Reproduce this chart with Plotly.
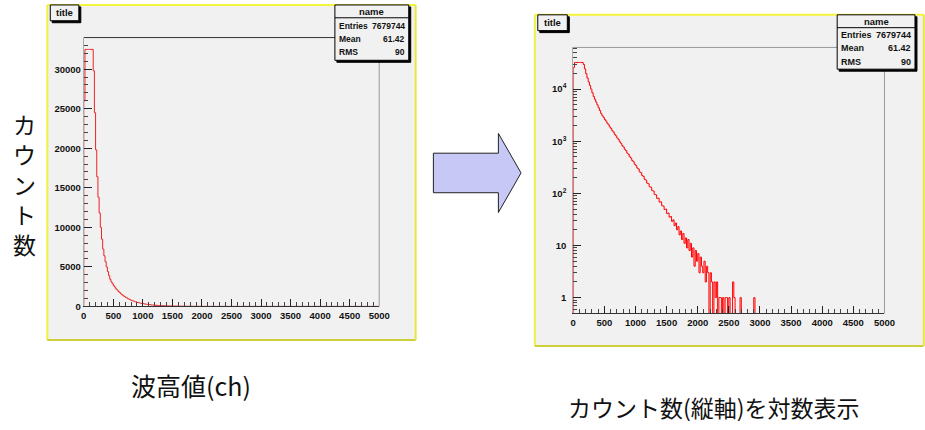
import plotly.graph_objects as go

W, H = 925, 430

# Pulse-height histogram: 20-channel bins from 0 to 5000 ch
BIN_WIDTH = 20
N_BINS = 250
counts = [
    26000, 32500, 32500, 32500, 32500, 32500, 32500, 32500, 29800, 24500,
    19800, 16400, 13800, 11800, 10000, 8500, 7250, 6400, 5650, 4990,
    4400, 3890, 3430, 3090, 2870, 2610, 2440, 2210, 2070, 1880,
    1760, 1590, 1495, 1350, 1270, 1150, 1080, 975, 915, 826,
    778, 700, 662, 592, 561, 503, 478, 426, 405, 362,
    344, 307, 294, 258, 249, 220, 212, 186, 180, 157,
    153, 134, 131, 113, 111, 96, 94, 80, 81, 68,
    69, 58, 57, 49, 50, 41, 42, 35, 36, 29,
    31, 24, 27, 20, 23, 16, 19, 13, 17, 11,
    14, 9, 13, 8, 11, 6, 9, 4, 8, 5,
    7, 3, 6, 4, 3, 5, 2, 4, 3, 0,
    3, 2, 0, 2, 1, 2, 0, 1, 1, 0,
    1, 0, 1, 1, 0, 1, 0, 0, 2, 1,
    0, 0, 0, 0, 1, 0, 0, 0, 0, 0,
    0, 0, 0, 0, 0, 1,
]
counts = counts + [0] * (N_BINS - len(counts))

stats_rows = [("Entries", "7679744"), ("Mean", "61.42"), ("RMS", "90")]
stats_name = "name"
hist_title = "title"

x_ticks = list(range(0, 5001, 500))
lin_y_ticks = list(range(0, 30001, 5000))
log_y_ticks = [1, 10, 100, 1000, 10000]
log_y_labels = ["1", "10", "10<sup>2</sup>", "10<sup>3</sup>", "10<sup>4</sup>"]
log_minor = [m * 10 ** d for d in range(-1, 5) for m in range(2, 10)]

label_y = "カウント数"
label_x = "波高値(ch)"
label_log = "カウント数(縦軸)を対数表示"

ROOT_FONT = "Liberation Sans, Arial"
JP_FONT = "Noto Sans CJK JP"
CANVAS = "#f1f1f1"


def px(x):
    return x / W


def py(y):
    return 1 - y / H


# step outline of the histogram (edges, ROOT style)
edges = [i * BIN_WIDTH for i in range(N_BINS + 1)]
step_x = [0] + edges[:-1] + [edges[-1]]
step_y = [0] + counts + [counts[-1]]
log_floor = 1e-3
step_y_log = [v if v > 0 else log_floor for v in step_y]

fig = go.Figure()
fig.add_trace(go.Scatter(x=step_x, y=step_y, mode="lines", line_shape="hv",
                         line=dict(color="#ee2222", width=1), xaxis="x", yaxis="y",
                         showlegend=False, hoverinfo="skip"))
fig.add_trace(go.Scatter(x=step_x, y=step_y_log, mode="lines", line_shape="hv",
                         line=dict(color="#ff0000", width=1), xaxis="x2", yaxis="y2",
                         showlegend=False, hoverinfo="skip"))

tickfont = dict(family=ROOT_FONT, size=9.5, color="#111", weight="bold")

common_x = dict(range=[0, 5000], tickvals=x_ticks, ticktext=[str(v) for v in x_ticks],
                ticks="inside", ticklen=7,
                tickcolor="#222", showline=True, linecolor="#333", linewidth=1,
                showgrid=False, zeroline=False, tickfont=tickfont,
                minor=dict(ticks="inside", dtick=100, tick0=0, ticklen=4, tickcolor="#444"))

shapes = []
annotations = []


def rect(x0, y0, x1, y1, fill=None, line_color="black", width=1, layer="above"):
    shapes.append(dict(type="rect", xref="paper", yref="paper",
                       x0=px(x0), x1=px(x1), y0=py(y1), y1=py(y0),
                       fillcolor=fill if fill else "rgba(0,0,0,0)",
                       line=dict(color=line_color, width=width), layer=layer))


def line(x0, y0, x1, y1, color, width=1, layer="above"):
    shapes.append(dict(type="line", xref="paper", yref="paper",
                       x0=px(x0), x1=px(x1), y0=py(y0), y1=py(y1),
                       line=dict(color=color, width=width), layer=layer))


def text(x, y, s, size=9, xanchor="center", family=ROOT_FONT, weight="bold", color="#111"):
    annotations.append(dict(x=px(x), y=py(y), xref="paper", yref="paper", text=s,
                            showarrow=False, xanchor=xanchor, yanchor="middle",
                            font=dict(family=family, size=size, color=color, weight=weight)))


def canvas(x0, y0, x1, y1):
    rect(x0, y0, x1, y1, fill=CANVAS, line_color="rgba(0,0,0,0)", layer="below")
    line(x0, y0, x1, y0, "#f4f43c", 2, "below")
    line(x0, y0, x0, y1, "#f0f040", 2, "below")
    line(x0, y1, x1, y1, "#cfcf3a", 2, "below")
    line(x1, y0, x1, y1, "#e8e83c", 2, "below")


def title_box(x0, y0, x1, y1):
    rect(x0 + 2, y0 + 2, x1 + 2, y1 + 2, fill="#000")
    rect(x0, y0, x1, y1, fill=CANVAS, line_color="#000")
    text((x0 + x1) / 2, (y0 + y1) / 2, hist_title, size=9.5)


def stats_box(x0, y0, x1, y1, head_y, row_ys, size):
    rect(x0 + 2, y0 + 2, x1 + 2, y1 + 2, fill="#000")
    rect(x0, y0, x1, y1, fill=CANVAS, line_color="#000")
    line(x0, head_y, x1, head_y, "#000", 1)
    text((x0 + x1) / 2, (y0 + head_y) / 2, stats_name, size=9.5)
    for (k, v), yy in zip(stats_rows, row_ys):
        text(x0 + 2, yy, k, size=size, xanchor="left")
        text(x1 - 2, yy, v, size=size, xanchor="right")


# left canvas: linear scale
canvas(45, 5, 419, 344)
line(82, 38, 382, 38, "#333", 1)
line(382, 38, 382, 310, "#999", 1)
title_box(48, 5, 77, 21)
stats_box(337, 5, 412, 61, 18, [26, 39.5, 53], 8.5)

# right canvas: log scale
canvas(540, 15, 935, 350)
line(579, 48, 895, 48, "#999", 1)
line(895, 48, 895, 317, "#999", 1)
title_box(543, 15, 573, 31)
stats_box(847, 15, 926, 70, 28, [35, 49, 63], 9)

# arrow between the two canvases
arrow_pts = [(437, 155), (503, 155), (503, 135), (526, 175), (503, 215), (503, 195), (437, 195)]
path = "M " + " L ".join(f"{px(a):.5f},{py(b):.5f}" for a, b in arrow_pts) + " Z"
shapes.append(dict(type="path", xref="paper", yref="paper", path=path,
                   fillcolor="#c8c8f6", line=dict(color="#222", width=1), layer="above"))

# Japanese captions (vertical y label as one stacked text)
text(22, 186, "<br>".join(label_y), size=23, family=JP_FONT, weight="normal", color="#111")
text(191, 390, label_x, size=25, family=JP_FONT, weight="normal", color="#111")
text(722, 412, label_log, size=23, family=JP_FONT, weight="normal", color="#111")

fig.update_layout(
    width=W, height=H, autosize=False,
    margin=dict(l=0, r=0, t=0, b=0),
    paper_bgcolor="white", plot_bgcolor="rgba(0,0,0,0)",
    showlegend=False,
    xaxis=dict(domain=[px(82), px(382)], anchor="y", **common_x),
    yaxis=dict(domain=[py(310), py(38)], anchor="x", range=[0, 34000],
               tickvals=lin_y_ticks, ticktext=[str(v) for v in lin_y_ticks],
               ticks="inside", ticklen=8, tickcolor="#222",
               showline=True, linecolor="#aaa", showgrid=False, zeroline=False,
               tickfont=tickfont,
               minor=dict(ticks="inside", dtick=1000, tick0=0, ticklen=4, tickcolor="#444")),
    xaxis2=dict(domain=[px(579), px(895)], anchor="y2", **common_x),
    yaxis2=dict(domain=[py(317), py(48)], anchor="x2", type="log",
                range=[-0.301, 4.8], tickvals=log_y_ticks, ticktext=log_y_labels,
                ticks="inside", ticklen=8, tickcolor="#222",
                showline=True, linecolor="#aaa", showgrid=False, zeroline=False,
                tickfont=tickfont, ticklabelstandoff=4,
                minor=dict(ticks="inside", tickvals=log_minor, ticklen=4, tickcolor="#444")),
    shapes=shapes, annotations=annotations,
)

fig.write_html("out.html")
